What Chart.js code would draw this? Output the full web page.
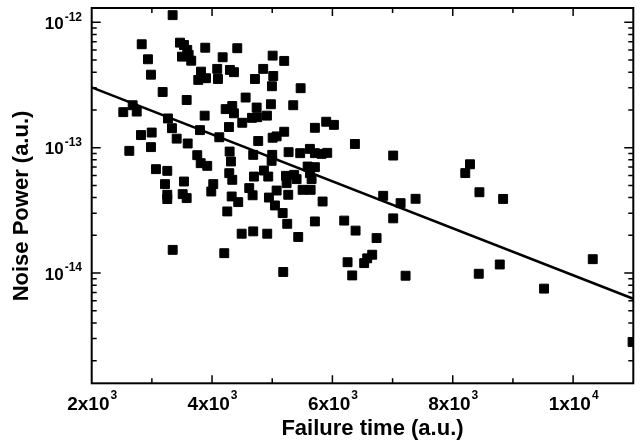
<!DOCTYPE html>
<html>
<head>
<meta charset="utf-8">
<script src="https://cdn.jsdelivr.net/npm/chart.js@4.4.1/dist/chart.umd.min.js"></script>
<style>body{margin:0;background:#fff}</style>
</head>
<body>
<canvas id="nCanv" width="643" height="447"></canvas>
<script>
// failure time (a.u.) and noise power (a.u.) for each device
const failTime = [
  3345, 2831, 2935, 2985, 3179, 2525, 2681, 2748, 2819, 2997,
  2985, 2625, 3267, 3334, 3412, 3595, 3799, 3877, 3578, 3467,
  3533, 3588, 3500, 3611, 3654, 3887, 3816, 3771, 3899, 4086,
  4098, 4176, 4297, 4364, 4419, 4226, 4336, 4364, 4281, 4120,
  4292, 3754, 4502, 4558, 4713, 4850, 4741, 4663, 4751, 4912,
  4978, 5007, 5017, 4995, 4767, 5007, 5073, 4684, 5000, 5199,
  5472, 5349, 5709, 5897, 6025, 5199, 6374, 5272, 5465, 5626,
  5709, 5821, 5914, 7010, 4990, 4862, 4934, 5228, 5239, 5365,
  5405, 5588, 5709, 5626, 5654, 5505, 5638, 5073, 4945, 5266,
  5837, 5045, 5173, 6844, 7133, 7382, 7010, 5249, 5709, 6196,
  6385, 4917, 5432, 6734, 6661, 6578, 6528, 6252, 6329, 7216,
  5183, 3068, 3256, 3218, 3256, 3256, 3533, 3512, 3578, 3811,
  3920, 4020, 3987, 4314, 4286, 4336, 4326, 4435, 4253, 4696,
  4618, 4674, 4492, 4684, 3346, 4203, 8286, 8208, 8443, 8837,
  8432, 8781, 9517, 10326, 10988
];
const noisePow = [
  1.14e-12, 6.68e-13, 5.07e-13, 3.82e-13, 2.78e-13, 1.92e-13, 2.18e-13, 1.94e-13, 1.26e-13, 1.32e-13,
  1.01e-13, 9.43e-14, 1.71e-13, 1.43e-13, 1.18e-13, 1.08e-13, 1.38e-13, 1.80e-13, 2.40e-13, 6.88e-13,
  6.59e-13, 6.02e-13, 5.32e-13, 5.49e-13, 4.94e-13, 6.27e-13, 4.04e-13, 3.47e-13, 3.58e-13, 4.25e-13,
  3.53e-13, 5.26e-13, 4.17e-13, 4.00e-13, 6.21e-13, 2.03e-13, 2.15e-13, 1.88e-13, 1.46e-13, 1.21e-13,
  9.31e-14, 8.71e-14, 1.58e-13, 2.51e-13, 3.53e-13, 4.25e-13, 2.09e-13, 1.73e-13, 1.75e-13, 1.80e-13,
  2.22e-13, 5.42e-13, 3.73e-13, 3.09e-13, 1.13e-13, 1.20e-13, 1.23e-13, 8.76e-14, 8.76e-14, 4.92e-13,
  2.98e-13, 2.18e-13, 1.44e-13, 1.61e-13, 1.52e-13, 1.34e-13, 1.07e-13, 9.21e-14, 9.04e-14, 9.78e-14,
  9.04e-14, 8.92e-14, 9.09e-14, 8.65e-14, 7.85e-14, 6.57e-14, 5.88e-14, 5.96e-14, 5.21e-14, 6.07e-14,
  5.61e-14, 7.07e-14, 6.99e-14, 6.26e-14, 5.61e-14, 4.61e-14, 4.61e-14, 4.55e-14, 4.00e-14, 4.21e-14,
  3.72e-14, 3.46e-14, 3.01e-14, 4.13e-14, 3.61e-14, 3.91e-14, 2.73e-14, 2.47e-14, 2.58e-14, 2.62e-14,
  2.18e-14, 2.06e-14, 1.94e-14, 1.90e-14, 1.40e-14, 1.31e-14, 1.20e-14, 1.22e-14, 9.57e-15, 9.52e-15,
  1.02e-14, 6.74e-14, 6.53e-14, 5.12e-14, 4.21e-14, 3.89e-14, 5.37e-14, 4.26e-14, 3.96e-14, 7.52e-14,
  7.16e-14, 5.12e-14, 4.47e-14, 7.76e-14, 6.26e-14, 5.54e-14, 4.08e-14, 3.68e-14, 3.10e-14, 5.88e-14,
  4.76e-14, 4.17e-14, 2.06e-14, 2.15e-14, 1.53e-14, 1.44e-14, 7.37e-14, 6.27e-14, 4.41e-14, 3.90e-14,
  9.87e-15, 1.17e-14, 7.51e-15, 1.29e-14, 2.82e-15
];

// fitted line end points
const fitX = [2000, 11000];
const fitY = [3.03e-13, 6.24e-15];

const xMin = 2000, xMax = 11000, xStep = 1000;
const yMin = 1.32e-15, yMax = 1.3e-12;
const xTickVals = [2000, 4000, 6000, 8000, 10000];
const xTickBase = ["2x10", "4x10", "6x10", "8x10", "1x10"];
const xTickExp = ["3", "3", "3", "3", "4"];
const yTickVals = [1e-14, 1e-13, 1e-12];
const yTickBase = ["10", "10", "10"];
const yTickExp = ["-14", "-13", "-12"];

const FONT = '"Liberation Sans", Arial, Helvetica, sans-serif';

const frame = {
  id: "frame",
  afterDraw(chart) {
    const { ctx, chartArea: a, scales: { x, y } } = chart;
    ctx.save();
    ctx.strokeStyle = "#000";
    ctx.fillStyle = "#000";

    // inner ticks on all four sides
    ctx.lineWidth = 1.5;
    ctx.beginPath();
    for (let v = xMin + xStep; v < xMax; v += xStep) {
      const px = x.getPixelForValue(v);
      const len = xTickVals.includes(v) ? 8 : 5;
      ctx.moveTo(px, a.bottom); ctx.lineTo(px, a.bottom - len);
      ctx.moveTo(px, a.top); ctx.lineTo(px, a.top + len);
    }
    for (let e = -15; e <= -12; e++) {
      for (let m = 1; m <= 9; m++) {
        const v = m * Math.pow(10, e);
        if (v < yMin || v > yMax) continue;
        const py = y.getPixelForValue(v);
        const len = m === 1 ? 9 : 5;
        ctx.moveTo(a.left, py); ctx.lineTo(a.left + len, py);
        ctx.moveTo(a.right, py); ctx.lineTo(a.right - len, py);
      }
    }
    ctx.stroke();

    ctx.lineWidth = 2;
    ctx.strokeRect(a.left, a.top, a.right - a.left, a.bottom - a.top);

    // x tick labels
    ctx.textBaseline = "middle";
    ctx.textAlign = "left";
    xTickVals.forEach((v, i) => {
      const px = x.getPixelForValue(v);
      ctx.font = "bold 19px " + FONT;
      const w1 = ctx.measureText(xTickBase[i]).width;
      ctx.font = "bold 12px " + FONT;
      const w2 = ctx.measureText(xTickExp[i]).width;
      const x0 = px - (w1 + w2) / 2;
      ctx.font = "bold 19px " + FONT;
      ctx.fillText(xTickBase[i], x0, 405);
      ctx.font = "bold 12px " + FONT;
      ctx.fillText(xTickExp[i], x0 + w1 + 1, 396);
    });

    // y tick labels
    yTickVals.forEach((v, i) => {
      const py = y.getPixelForValue(v);
      ctx.font = "bold 12px " + FONT;
      const w2 = ctx.measureText(yTickExp[i]).width;
      ctx.textAlign = "left";
      ctx.fillText(yTickExp[i], 82 - w2, py - 5);
      ctx.font = "bold 17px " + FONT;
      ctx.textAlign = "right";
      ctx.fillText(yTickBase[i], 82 - w2 - 1, py + 2);
    });

    // axis titles
    ctx.font = "bold 22px " + FONT;
    ctx.textAlign = "center";
    ctx.fillText("Failure time (a.u.)", (a.left + a.right) / 2 + 10, 429);
    ctx.save();
    ctx.translate(22, 206);
    ctx.rotate(-Math.PI / 2);
    ctx.fillText("Noise Power (a.u.)", 0, 0);
    ctx.restore();

    ctx.restore();
  }
};

new Chart(document.getElementById("nCanv"), {
  type: "scatter",
  data: {
    datasets: [
      {
        label: "devices",
        data: failTime.map((t, i) => ({ x: t, y: noisePow[i] })),
        pointStyle: "rect",
        pointRadius: 6.3,
        borderWidth: 1,
        backgroundColor: "#000",
        borderColor: "#000"
      },
      {
        type: "line",
        label: "fit",
        data: fitX.map((t, i) => ({ x: t, y: fitY[i] })),
        borderColor: "#000",
        borderWidth: 2.5,
        pointRadius: 0,
        fill: false,
        tension: 0
      }
    ]
  },
  options: {
    responsive: false,
    animation: false,
    layout: { padding: { top: 8, right: 9.7, left: 0, bottom: 0 } },
    plugins: { legend: { display: false }, tooltip: { enabled: false } },
    scales: {
      x: {
        type: "linear",
        min: xMin,
        max: xMax,
        ticks: { display: false },
        grid: { display: false },
        border: { display: false },
        afterFit(s) { s.height = 63.7; }
      },
      y: {
        type: "logarithmic",
        min: yMin,
        max: yMax,
        ticks: { display: false },
        grid: { display: false },
        border: { display: false },
        afterFit(s) { s.width = 91.7; }
      }
    }
  },
  plugins: [frame]
});
</script>
</body>
</html>
